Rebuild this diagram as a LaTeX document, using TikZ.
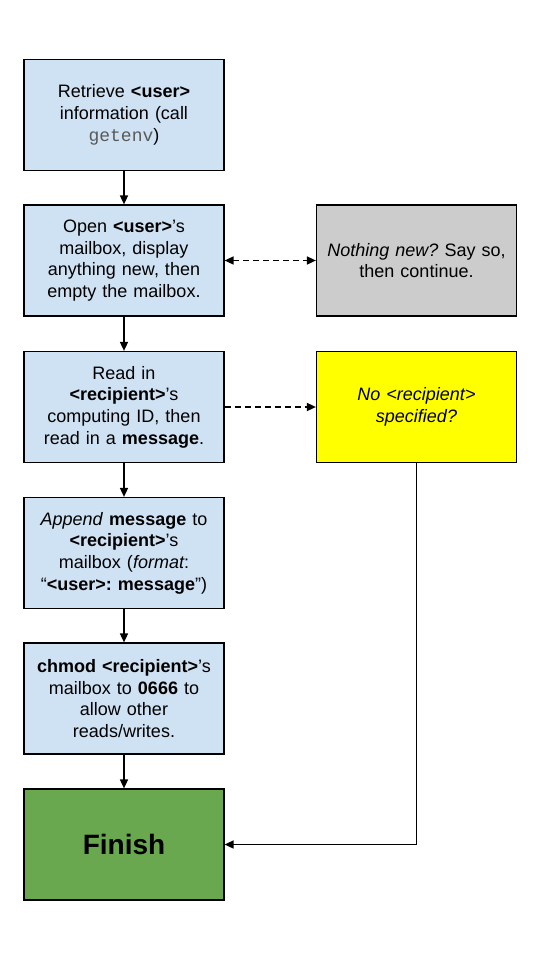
\documentclass[tikz,border=0pt]{standalone}
\usepackage{fontspec}
\setmainfont{Liberation Sans}
\setmonofont{Liberation Mono}
\usetikzlibrary{arrows.meta,positioning}
\definecolor{lblue}{HTML}{CFE2F3}
\definecolor{lgray}{HTML}{CCCCCC}
\definecolor{yel}{HTML}{FFFF00}
\definecolor{grn}{HTML}{6AA84F}
\definecolor{codegray}{HTML}{595959}
\tikzset{
  box/.style={draw=black, line width=1.2pt, minimum width=200pt, minimum height=111pt,
    text width=190pt, align=center, inner sep=0pt, font=\fontsize{18}{21.7}\selectfont\frenchspacing},
  tip/.tip={Triangle[length=9pt,width=8pt]},
  flow/.style={line width=1.6pt, -tip},
  dflow/.style={line width=1.6pt, dash pattern=on 6pt off 4pt},
}
\begin{document}
\begin{tikzpicture}[x=1pt,y=-1pt]
\useasboundingbox[fill=white] (0,0) rectangle (540,960);
\node[box, fill=lblue] (b1) at (124,115) {Retrieve \textbf{<user>}\\ information (call\\ {\color{codegray}\ttfamily getenv})};
\node[box, fill=lblue] (b2) at (124,260.5) {Open \textbf{<user>}’s\\ mailbox, display\\ anything new, then\\ empty the mailbox.};
\node[box, fill=lblue] (b3) at (124,407) {Read in\\ \textbf{<recipient>}’s\\ computing ID, then\\ read in a \textbf{message}.};
\node[box, fill=lblue] (b4) at (124,553) {{\itshape Append} \textbf{message} to\\ \textbf{<recipient>}’s\\ mailbox ({\itshape format}:\\ “\textbf{<user>: message}”)};
\node[box, fill=lblue] (b5) at (124,698.5) {\textbf{chmod <recipient>}’s\\ mailbox to \textbf{0666} to\\ allow other\\ reads/writes.};
\node[box, fill=grn, font=\fontsize{28}{32}\selectfont\bfseries] (fin) at (124,844.5) {Finish};
\node[box, fill=lgray] (g) at (416.5,260.5) {{\itshape Nothing new?} Say so,\\ then continue.};
\node[box, fill=yel, font=\fontsize{18}{21.7}\selectfont\itshape] (y) at (416.5,407) {No <recipient>\\ specified?};
\draw[flow] (b1) -- (b2);
\draw[flow] (b2) -- (b3);
\draw[flow] (b3) -- (b4);
\draw[flow] (b4) -- (b5);
\draw[flow] (b5) -- (fin);
\draw[dflow, tip-tip] (b2) -- (g);
\draw[dflow, -tip] (b3) -- (y);
\draw[flow] (y.south) |- (fin.east);
\end{tikzpicture}
\end{document}
